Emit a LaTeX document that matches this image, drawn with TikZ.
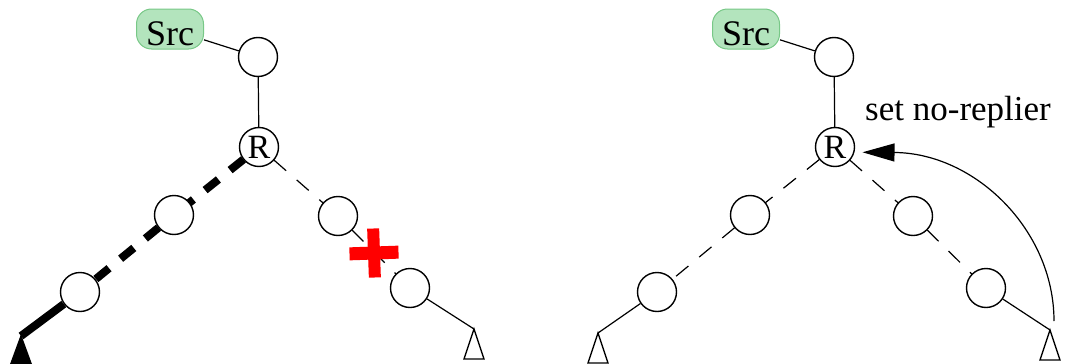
\documentclass[tikz,border=0pt]{standalone}
\usepackage{fontspec}
\setmainfont{Liberation Serif}
\usetikzlibrary{arrows.meta,backgrounds}
\definecolor{srcfill}{RGB}{179,228,189}
\definecolor{srcdraw}{RGB}{120,200,135}
\tikzset{
 x=1pt,y=1pt,
 nd/.style={circle,draw,line width=1.4pt,fill=white,minimum size=39pt,inner sep=0pt,font=\fontsize{34}{34}\selectfont},
 srcbox/.style={rounded corners=15pt,draw=srcdraw,fill=srcfill,line width=1pt,minimum width=67pt,minimum height=40pt,inner sep=0pt,text height=33pt,text depth=0pt,font=\fontsize{36}{36}\selectfont},
 thinline/.style={line width=1.2pt},
 thindash/.style={line width=1.2pt,dash pattern=on 16pt off 14pt,dash phase=10pt},
 thickdash/.style={line width=8pt,dash pattern=on 17pt off 15pt,dash phase=12pt},
 thickline/.style={line width=8pt},
 tri/.style={line width=1.3pt,line join=miter},
 lbl/.style={font=\fontsize{35}{35}\selectfont,inner sep=0pt}
}
\begin{document}
\begin{tikzpicture}
\useasboundingbox (0,0) rectangle (1068,-364);
% ---------- left panel ----------
\node[srcbox] (src1) at (170,-29) {Src};
\node[nd] (a1) at (258,-57) {};
\node[nd] (R1) at (259,-147) {R};
\node[nd] (lm1) at (174,-215) {};
\node[nd] (ll1) at (80,-292) {};
\node[nd] (rm1) at (338,-216) {};
\node[nd] (rl1) at (410,-288) {};
\coordinate (lt1) at (21,-336);
\coordinate (rt1) at (474,-329);
\draw[tri,fill=black] (lt1) -- ++(-11,-30) -- ++(22,0) -- cycle;
\draw[tri] (rt1) -- ++(-10,-30) -- ++(20,0) -- cycle;
\draw[thinline] (src1) -- (a1);
\draw[thinline] (a1) -- (R1);
\draw[thickline] (ll1) -- (lt1);
\draw[thinline] (rl1) -- (rt1);
\begin{scope}[on background layer]
\draw[thickdash] (R1.center) -- (lm1.center);
\draw[thickdash] (lm1.center) -- (ll1.center);
\draw[thindash] (R1.center) -- (rm1.center);
\draw[thindash] (rm1.center) -- (rl1.center);
\end{scope}
\begin{scope}[shift={(374,-253)},rotate=2]
\fill[red] (-24.5,-6.5) rectangle (24.5,6.5);
\fill[red] (-6,-24.5) rectangle (6,24.5);
\end{scope}
% ---------- right panel ----------
\node[srcbox] (src2) at (746,-29) {Src};
\node[nd] (a2) at (834,-57) {};
\node[nd] (R2) at (835,-147) {R};
\node[nd] (lm2) at (750,-215) {};
\node[nd] (ll2) at (657,-292) {};
\node[nd] (rm2) at (913,-216) {};
\node[nd] (rl2) at (986,-288) {};
\coordinate (lt2) at (598,-333);
\coordinate (rt2) at (1050,-330);
\draw[tri] (lt2) -- ++(-10,-30) -- ++(20,0) -- cycle;
\draw[tri] (rt2) -- ++(-10,-30) -- ++(20,0) -- cycle;
\draw[thinline] (src2) -- (a2);
\draw[thinline] (a2) -- (R2);
\draw[thinline] (ll2) -- (lt2);
\draw[thinline] (rl2) -- (rt2);
\begin{scope}[on background layer]
\draw[thindash] (R2.center) -- (lm2.center);
\draw[thindash] (lm2.center) -- (ll2.center);
\draw[thindash] (R2.center) -- (rm2.center);
\draw[thindash] (rm2.center) -- (rl2.center);
\end{scope}
\node[lbl,anchor=base west] (note) at (865,-120) {set no-replier};
\coordinate (as) at (1054,-321);
\draw[thinline,-{Triangle[length=32pt,width=18pt]},shorten >=8pt] (as) .. controls (1054,-230) and (975,-153) .. (R2.-15);
\end{tikzpicture}
\end{document}
